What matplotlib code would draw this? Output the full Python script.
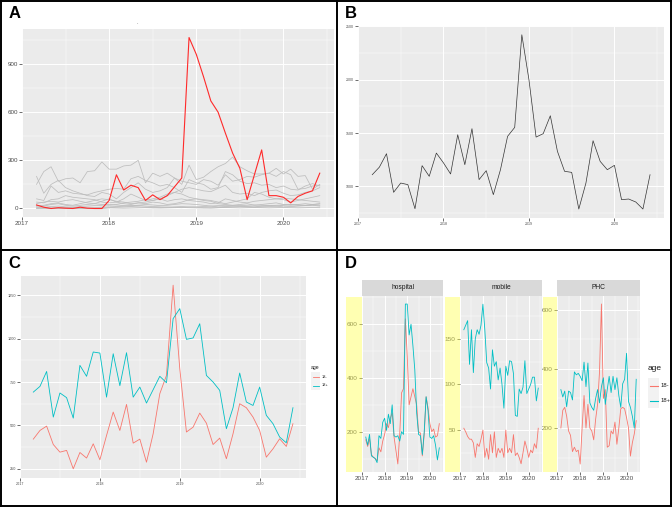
import matplotlib
matplotlib.use("Agg")
import matplotlib.pyplot as plt
import pandas as pd
from matplotlib.lines import Line2D
from matplotlib.patches import Rectangle

plt.rcParams["font.family"] = ["Liberation Sans", "DejaVu Sans"]

# monthly series, Mar 2017 .. Jun 2020
months = pd.date_range("2017-03-01", periods=40, freq="MS")
t = months.year + (months.month - 1) / 12.0

# ---- A: one highlighted facility (red) against the others (grey)
a_red = [22, 8, 0, 5, 2, 0, 8, 2, 0, 0, 50, 210, 115, 145, 130, 50, 85, 55, 80, 135,
         190, 1065, 960, 820, 670, 600, 470, 345, 250, 55, 210, 365, 80, 80, 70, 35, 75, 95, 110, 220]
a_fac01 = [150, 230, 260, 170, 185, 190, 160, 230, 235, 290, 245, 245, 265, 270, 300, 160, 220, 200, 220, 190,
           150, 270, 180, 195, 230, 260, 280, 320, 260, 235, 215, 215, 220, 250, 215, 245, 200, 205, 120, 150]
a_fac02 = [200, 95, 150, 175, 130, 110, 95, 80, 75, 100, 90, 60, 100, 130, 160, 120, 100, 110, 130, 190,
           170, 160, 150, 180, 170, 145, 210, 170, 180, 200, 195, 210, 220, 200, 230, 210, 120, 125, 140, 145]
a_fac03 = [60, 50, 140, 100, 110, 95, 90, 85, 100, 110, 120, 125, 120, 185, 200, 175, 160, 140, 150, 130,
           100, 180, 160, 150, 120, 130, 230, 210, 170, 155, 160, 145, 150, 130, 140, 120, 115, 140, 155, 140]
a_fac04 = [40, 35, 55, 60, 80, 70, 65, 60, 55, 40, 35, 40, 60, 90, 70, 50, 60, 70, 90, 100,
           120, 130, 120, 110, 105, 125, 145, 100, 90, 95, 80, 100, 110, 115, 95, 80, 85, 100, 110, 130]
a_fac05 = [30, 40, 45, 40, 50, 55, 45, 35, 30, 25, 20, 25, 35, 40, 45, 55, 50, 60, 45, 55,
           60, 50, 45, 40, 30, 35, 60, 50, 40, 35, 45, 50, 55, 60, 55, 40, 50, 60, 70, 80]
a_fac06 = [20, 15, 25, 30, 20, 15, 20, 25, 30, 45, 60, 40, 30, 25, 35, 30, 40, 35, 25, 30,
           40, 55, 60, 50, 45, 30, 25, 20, 25, 30, 20, 25, 30, 35, 25, 20, 25, 30, 25, 30]
a_fac07 = [10, 8, 12, 15, 10, 8, 12, 15, 18, 20, 25, 22, 18, 15, 20, 25, 22, 18, 20, 25,
           30, 28, 25, 20, 15, 10, 12, 15, 18, 20, 22, 20, 18, 15, 20, 25, 22, 20, 25, 28]
a_fac08 = [5, 5, 3, 4, 6, 5, 4, 3, 5, 8, 10, 12, 15, 18, 20, 15, 12, 10, 8, 6,
           5, 8, 10, 12, 15, 18, 20, 18, 15, 12, 10, 15, 18, 20, 22, 25, 20, 18, 22, 20]
a_fac09 = [0, 0, 0, 0, 0, 0, 0, 0, 0, 0, 5, 8, 10, 12, 10, 8, 5, 6, 8, 10,
           12, 10, 8, 5, 3, 5, 8, 10, 12, 10, 8, 10, 12, 15, 10, 12, 15, 18, 20, 15]
a_fac10 = [2, 3, 2, 1, 2, 3, 2, 1, 2, 3, 4, 3, 2, 3, 4, 5, 4, 3, 4, 5,
           6, 5, 4, 3, 4, 5, 6, 5, 4, 5, 6, 5, 4, 5, 6, 5, 4, 5, 6, 5]
a_fac11 = [15, 20, 30, 35, 25, 20, 30, 40, 50, 60, 55, 45, 40, 30, 35, 40, 50, 60, 80, 100,
           90, 70, 60, 55, 50, 40, 30, 40, 50, 60, 100, 90, 70, 60, 65, 60, 55, 50, 45, 40]
a_grey = [a_fac01, a_fac02, a_fac03, a_fac04, a_fac05, a_fac06,
          a_fac07, a_fac08, a_fac09, a_fac10, a_fac11]

# ---- B: total
b_total = [1109, 1180, 1306, 944, 1031, 1016, 790, 1194, 1094, 1312, 1220, 1116, 1484, 1203, 1541, 1063,
           1147, 922, 1156, 1469, 1553, 2422, 2000, 1462, 1494, 1662, 1328, 1141, 1131, 787, 1031, 1428,
           1234, 1156, 1197, 875, 881, 853, 787, 1109]

# ---- C: by age
c_under18 = [421, 471, 496, 390, 346, 356, 250, 344, 312, 394, 302, 442, 577, 471, 621, 398, 421, 288, 452,
             683, 788, 1308, 827, 462, 490, 571, 513, 390, 427, 308, 452, 625, 602, 548, 471, 317, 365,
             423, 379, 510]
c_over18 = [692, 725, 811, 548, 687, 660, 542, 846, 783, 923, 917, 663, 913, 729, 919, 663, 721, 629, 706,
            783, 746, 1115, 1173, 996, 1004, 1086, 788, 750, 702, 481, 602, 802, 635, 615, 721, 558, 510,
            433, 400, 602]
age_labels = ["18-", "18+"]
age_colors = ["#F8766D", "#00BFC4"]

# ---- D: by facility type and age
facet_names = ["hospital", "mobile", "PHC"]
d_hosp_u18 = [170, 145, 175, 115, 105, 100, 92, 140, 125, 165, 190, 230, 215, 250, 270, 180, 130, 80, 190, 345,
              360, 620, 480, 300, 330, 360, 330, 300, 200, 195, 110, 190, 330, 290, 230, 200, 210, 180, 185, 230]
d_hosp_o18 = [180, 150, 190, 110, 105, 100, 85, 185, 175, 235, 250, 205, 265, 230, 300, 185, 180, 185, 165, 200,
              190, 675, 675, 560, 600, 520, 430, 270, 190, 185, 115, 200, 330, 280, 180, 175, 185, 150, 95, 140]
d_mob_u18 = [52, 48, 43, 40, 40, 36, 20, 35, 32, 40, 50, 20, 30, 18, 45, 25, 48, 20, 30, 25,
             30, 20, 50, 25, 30, 25, 45, 22, 25, 20, 13, 25, 38, 30, 20, 28, 25, 35, 30, 52]
d_mob_o18 = [160, 165, 170, 122, 160, 113, 150, 160, 155, 165, 188, 160, 124, 118, 95, 138, 120, 125, 105, 118,
             100, 74, 120, 110, 126, 125, 112, 66, 65, 95, 90, 97, 126, 90, 95, 100, 108, 108, 82, 96]
d_phc_u18 = [200, 260, 270, 240, 190, 175, 120, 135, 120, 125, 78, 200, 310, 200, 280, 200, 190, 160, 230, 280,
             390, 620, 300, 330, 135, 140, 190, 180, 220, 145, 200, 265, 270, 265, 235, 200, 105, 150, 180, 225]
d_phc_o18 = [330, 305, 325, 272, 325, 320, 295, 390, 380, 385, 375, 360, 423, 340, 420, 285, 270, 260, 300, 330,
             285, 340, 370, 280, 330, 375, 320, 375, 330, 370, 310, 270, 350, 365, 453, 290, 270, 240, 200, 365]

W, H = 672, 507
fig = plt.figure(figsize=(W / 100, H / 100), dpi=100)
fig.patch.set_facecolor("white")


def fx(x):
    return x / W


def fy(y):
    return 1 - y / H


def axes_px(x0, y0, x1, y1):
    return fig.add_axes([x0 / W, 1 - y1 / H, (x1 - x0) / W, (y1 - y0) / H])


def gg(ax, ylim, ymajor, yminor, fs):
    # ggplot2 theme_grey look
    ax.set_facecolor("#EBEBEB")
    for s in ax.spines.values():
        s.set_visible(False)
    ax.set_xlim(2017.0, 2020.58)
    ax.set_ylim(*ylim)
    ax.set_xticks([2017, 2018, 2019, 2020])
    ax.set_xticks([2017.5, 2018.5, 2019.5, 2020.5], minor=True)
    ax.set_yticks(ymajor)
    ax.set_yticks(yminor, minor=True)
    ax.grid(True, which="major", color="white", lw=0.7)
    ax.grid(True, which="minor", color="white", lw=0.35)
    ax.set_axisbelow(True)
    ax.tick_params(which="major", length=2, width=0.5, color="#333333",
                   labelcolor="#4D4D4D", labelsize=fs, pad=1)
    ax.tick_params(which="minor", length=0)


def fig_line(x0, y0, x1, y1, **kw):
    fig.add_artist(Line2D([fx(x0), fx(x1)], [fy(y0), fy(y1)], transform=fig.transFigure, **kw))


def fig_rect(x0, y0, x1, y1, **kw):
    fig.add_artist(Rectangle((fx(x0), fy(y1)), (x1 - x0) / W, (y1 - y0) / H,
                             transform=fig.transFigure, **kw))


def legend_px(x, y_title, y_key0, key_w, key_h, fs_title, fs_lab, lw):
    fig.text(fx(x), fy(y_title), "age", fontsize=fs_title, color="#1A1A1A", va="center", ha="left")
    for i, (lab, col) in enumerate(zip(age_labels, age_colors)):
        y0 = y_key0 + i * key_h
        fig_rect(x, y0, x + key_w, y0 + key_h, facecolor="#F2F2F2", edgecolor="none")
        fig_line(x + 1.5, y0 + key_h / 2, x + key_w - 1.5, y0 + key_h / 2, color=col, lw=lw)
        fig.text(fx(x + key_w + 1.5), fy(y0 + key_h / 2), lab, fontsize=fs_lab, color="#1A1A1A",
                 va="center", ha="left")


# A
ax = axes_px(22, 29, 334, 217)
gg(ax, (-53, 1118), [0, 300, 600, 900], [150, 450, 750, 1050], 4.5)
for s in a_grey:
    ax.plot(t, s, color="#BDBDBD", lw=0.55)
ax.plot(t, a_red, color="#FF2A2A", lw=0.8, zorder=5)
fig.text(fx(137), fy(24), ".", fontsize=4, color="#555555", ha="center")

# B
ax = axes_px(358, 26, 664, 218)
gg(ax, (703, 2504), [1000, 1500, 2000, 2500], [750, 1250, 1750, 2250], 2.6)
ax.plot(t, b_total, color="#333333", lw=0.5)

# C
ax = axes_px(20, 276, 306, 478)
gg(ax, (197, 1361), [250, 500, 750, 1000, 1250], [375, 625, 875, 1125], 2.7)
ax.plot(t, c_under18, color=age_colors[0], lw=0.6)
ax.plot(t, c_over18, color=age_colors[1], lw=0.6)
legend_px(311, 367, 372, 9, 9, 3.6, 2.8, 0.6)

# D facets
facet_boxes = [(362, 443), (460, 542), (557, 640)]
yellow_boxes = [(346, 362), (445, 460), (543, 557)]
facet_data = [(d_hosp_u18, d_hosp_o18), (d_mob_u18, d_mob_o18), (d_phc_u18, d_phc_o18)]
facet_scales = [((50, 705), [200, 400, 600], [100, 300, 500, 700]),
                ((4, 197), [50, 100, 150], [25, 75, 125, 175]),
                ((51, 647), [200, 400, 600], [100, 300, 500])]
for name, (x0, x1), (u18, o18), (ylim, ymaj, ymin) in zip(facet_names, facet_boxes, facet_data, facet_scales):
    ax = axes_px(x0, 296, x1, 472)
    gg(ax, ylim, ymaj, ymin, 4.6)
    ax.plot(t, u18, color=age_colors[0], lw=0.6)
    ax.plot(t, o18, color=age_colors[1], lw=0.6)
    st = axes_px(x0, 280, x1, 295.5)
    st.set_facecolor("#D9D9D9")
    st.set_xticks([])
    st.set_yticks([])
    for s in st.spines.values():
        s.set_visible(False)
    st.text(0.5, 0.5, name, transform=st.transAxes, ha="center", va="center",
            fontsize=4.8, color="#1A1A1A")

# translucent yellow highlight over the D y axes
for x0, x1 in yellow_boxes:
    fig_rect(x0, 297, x1, 472, facecolor="#FFFF55", edgecolor="none", alpha=0.45, zorder=10)

legend_px(648, 368, 378, 11, 15, 6, 4.2, 0.8)

# panel letters
for lab, (x, y) in zip("ABCD", [(9, 13), (345, 13), (8, 263), (345, 263)]):
    fig.text(fx(x), fy(y), lab, fontsize=12, fontweight="bold", va="center", ha="left", color="black")

# frame and dividers
kw = dict(color="black", lw=1.4, zorder=20)
fig_line(0.7, 0, 0.7, H, **kw)
fig_line(W - 0.7, 0, W - 0.7, H, **kw)
fig_line(0, 0.7, W, 0.7, **kw)
fig_line(0, H - 1.5, W, H - 1.5, **kw)
fig_line(337, 0, 337, H, **kw)
fig_line(0, 250, W, 250, **kw)

fig.savefig("out.png", dpi=100, facecolor="white")
